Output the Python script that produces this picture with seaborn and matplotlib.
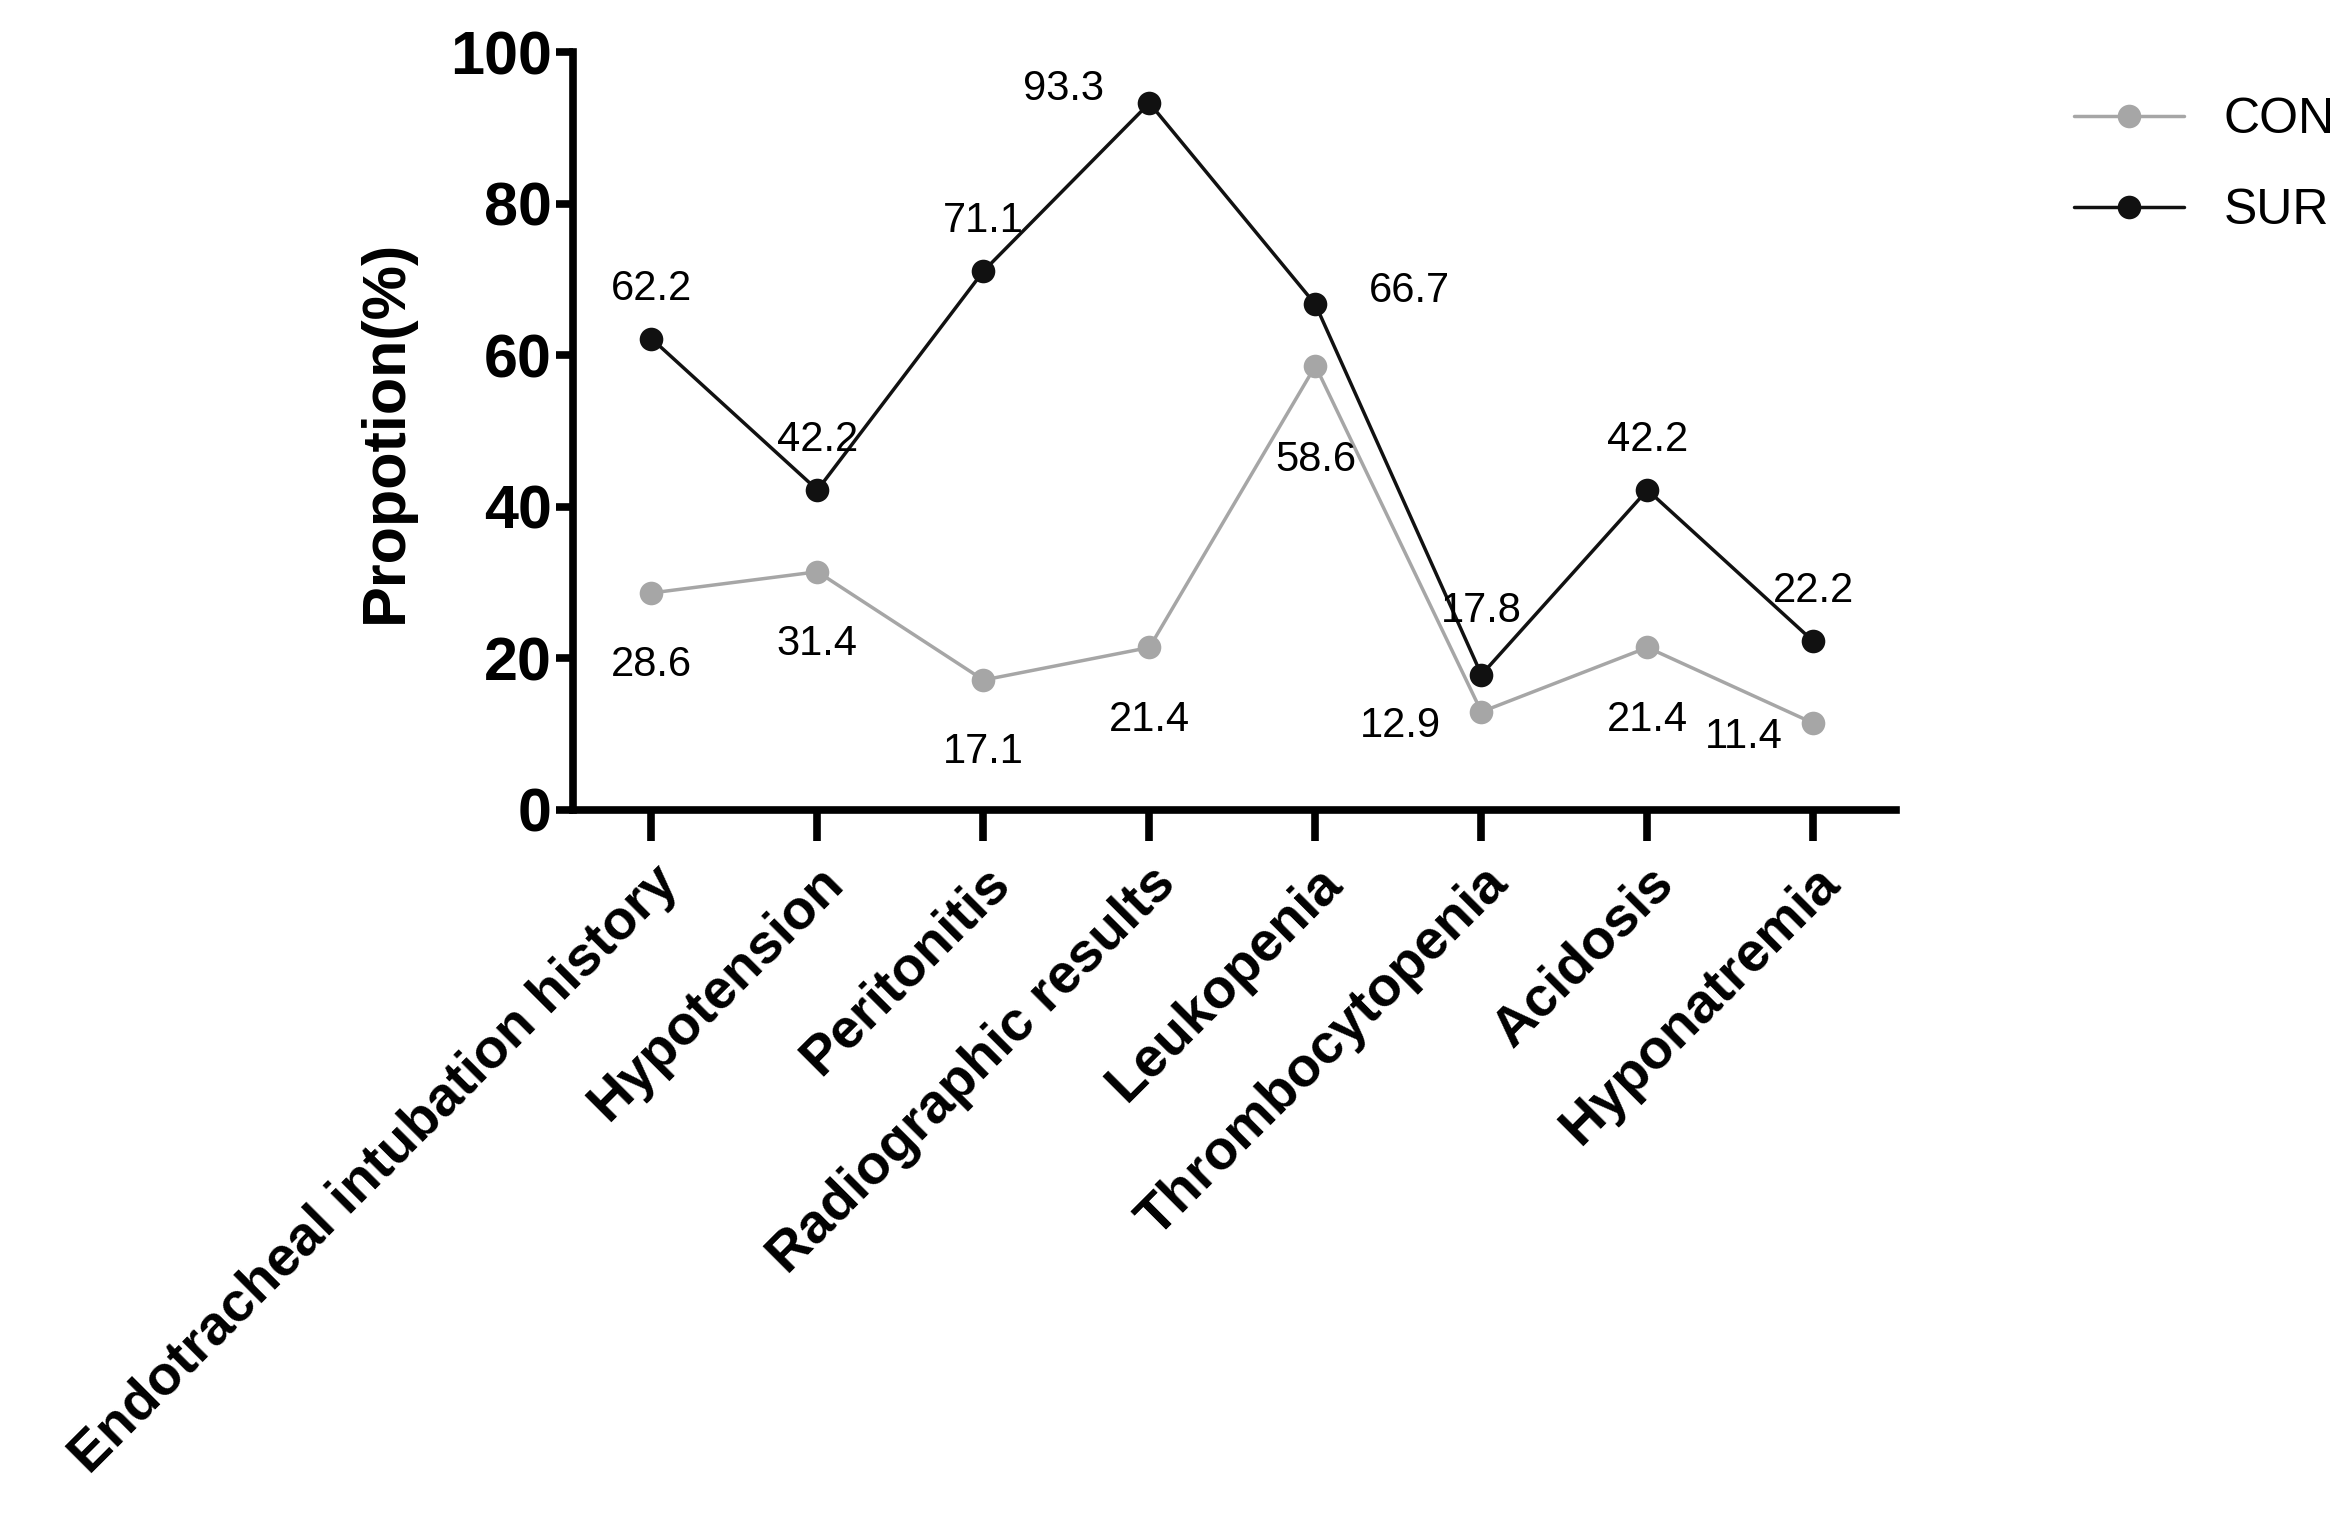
import matplotlib
matplotlib.use("Agg")
import matplotlib.pyplot as plt
import seaborn as sns
import pandas as pd

categories = ["Endotracheal intubation history", "Hypotension", "Peritonitis",
              "Radiographic results", "Leukopenia", "Thrombocytopenia",
              "Acidosis", "Hyponatremia"]
con_values = [28.6, 31.4, 17.1, 21.4, 58.6, 12.9, 21.4, 11.4]
sur_values = [62.2, 42.2, 71.1, 93.3, 66.7, 17.8, 42.2, 22.2]
groups = ["CON", "SUR"]

sns.set_style("white")
plt.rcParams['font.family'] = ['Liberation Sans', 'DejaVu Sans']
plt.rcParams['text.color'] = 'black'
plt.rcParams['axes.labelcolor'] = 'black'
plt.rcParams['xtick.color'] = 'black'
plt.rcParams['ytick.color'] = 'black'

df = pd.DataFrame({
    "x": list(range(len(categories))) * 2,
    "value": con_values + sur_values,
    "group": ["CON"] * len(categories) + ["SUR"] * len(categories),
})

fig = plt.figure(figsize=(23.5, 15.39), dpi=100)
ax = fig.add_axes([0.244, 0.474, 0.563, 0.492])
palette = {"CON": "#a6a6a6", "SUR": "#111111"}
sns.lineplot(data=df, x="x", y="value", hue="group", palette=palette,
             marker="o", markersize=17, linewidth=2.5, markeredgewidth=0, ax=ax)

# label offsets (points)
con_off = [(0, -52), (0, -52), (0, -52), (0, -52), (0, -68), (-58, -10), (0, -52), (-50, -10)]
sur_off = [(0, 36), (0, 36), (0, 36), (-62, 10), (68, 10), (0, 46), (0, 36), (0, 36)]
for i, v in enumerate(con_values):
    ax.annotate(f"{v}", (i, v), xytext=con_off[i], textcoords="offset points",
                ha="center", va="center", fontsize=30)
for i, v in enumerate(sur_values):
    ax.annotate(f"{v}", (i, v), xytext=sur_off[i], textcoords="offset points",
                ha="center", va="center", fontsize=30)

ax.set_xlim(-0.47, 7.5)
ax.set_ylim(0, 100)
ax.set_yticks([0, 20, 40, 60, 80, 100])
ax.set_xticks(range(len(categories)))
ax.set_xticklabels(categories, rotation=45, ha="right", rotation_mode="anchor",
                   fontsize=40, fontweight="bold")
for lab in ax.get_yticklabels():
    lab.set_fontsize(44)
    lab.set_fontweight("bold")
ax.set_xlabel("")
ax.set_ylabel("Propotion(%)", fontsize=44, fontweight="bold", labelpad=25)
for s in ["top", "right"]:
    ax.spines[s].set_visible(False)
for s in ["left", "bottom"]:
    ax.spines[s].set_linewidth(5.5)
    ax.spines[s].set_color("black")
ax.tick_params(axis="both", direction="out", width=5.5, length=22, color="black",
               bottom=True, left=True)
ax.tick_params(axis="x", pad=12)
ax.tick_params(axis="y", length=12)

leg = ax.legend(title=None, loc="upper left", bbox_to_anchor=(1.1, 1.0),
                frameon=False, fontsize=36, handlelength=2.2, labelspacing=0.9)
for h in leg.legend_handles:
    h.set_linewidth(2.5)

fig.savefig("out.png", dpi=100)
